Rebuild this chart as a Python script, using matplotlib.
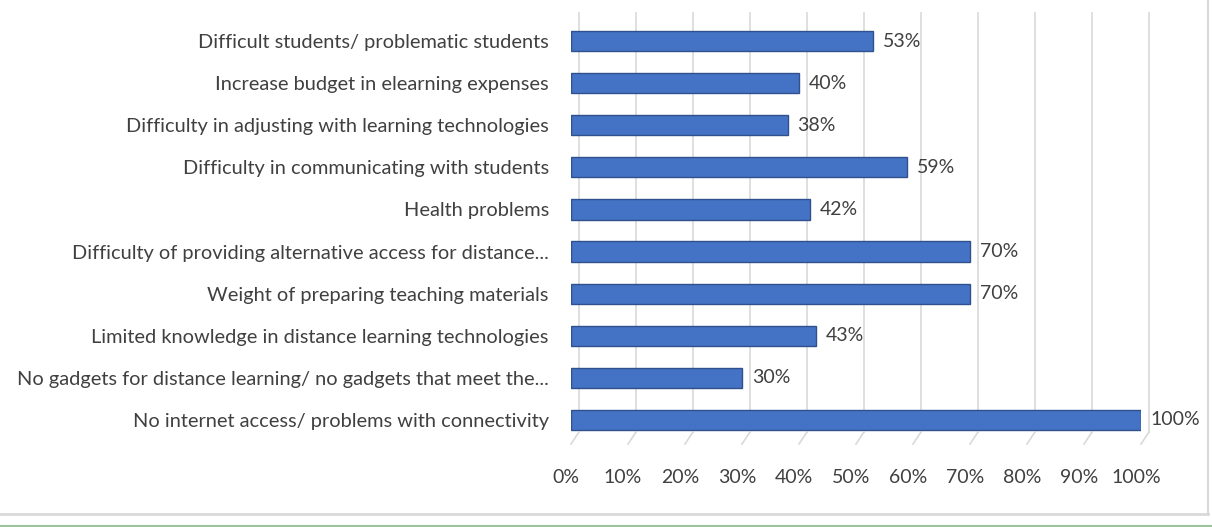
import matplotlib
matplotlib.use("Agg")
import matplotlib.pyplot as plt
from matplotlib import transforms
from matplotlib.lines import Line2D

categories = [
    "Difficult students/ problematic students",
    "Increase budget in elearning expenses",
    "Difficulty in adjusting with learning technologies",
    "Difficulty in communicating with students",
    "Health problems",
    "Difficulty of providing alternative access for distance...",
    "Weight of preparing teaching materials",
    "Limited knowledge in distance learning technologies",
    "No gadgets for distance learning/ no gadgets that meet the...",
    "No internet access/ problems with connectivity",
]
values = [53, 40, 38, 59, 42, 70, 70, 43, 30, 100]
xticks = [0, 10, 20, 30, 40, 50, 60, 70, 80, 90, 100]
xtick_labels = [f"{t}%" for t in xticks]

plt.rcParams['font.family'] = ['Lato', 'DejaVu Sans']
text_color = '#404040'
bar_color = '#4472C4'
edge_color = '#2F528F'
grid_color = '#d9d9d9'

W, H = 1212, 527
fig = plt.figure(figsize=(W / 100, H / 100), dpi=100)
ax_left, ax_right, ax_top, ax_bottom = 571, 1141, 13, 444
ax = fig.add_axes([ax_left / W, 1 - ax_bottom / H, (ax_right - ax_left) / W, (ax_bottom - ax_top) / H])

ypos = list(range(len(categories)))
ax.barh(ypos, values, height=0.48, color=bar_color, edgecolor=edge_color, linewidth=1.0, zorder=3)
ax.set_xlim(0, 100)
ax.set_ylim(9.57, -0.665)

# 3D-like back-wall gridlines with slanted floor ticks
gtrans = transforms.offset_copy(ax.get_xaxis_transform(), fig, x=8, y=0, units='dots')
floor = (ax_bottom - 432) / (ax_bottom - ax_top)
inv = fig.transFigure.inverted()
for t in xticks:
    ax.plot([t, t], [floor, 1.0], color=grid_color, lw=1.2, transform=gtrans, zorder=1, clip_on=False)
    a = inv.transform(gtrans.transform((t, floor)))
    b = inv.transform(ax.get_xaxis_transform().transform((t, 0.0)))
    fig.add_artist(Line2D([a[0], b[0]], [a[1], b[1]], color=grid_color, lw=1.2, transform=fig.transFigure))

ax.set_xticks(xticks)
ax.set_xticklabels(xtick_labels)
ax.set_yticks(ypos)
ax.set_yticklabels(categories)
ax.tick_params(axis='x', length=0, pad=18, labelsize=14, labelcolor=text_color)
ax.tick_params(axis='y', length=0, pad=16, labelsize=14.4, labelcolor=text_color)
for lab in ax.get_xticklabels():
    lab.set_transform(lab.get_transform() + transforms.ScaledTranslation(-5 / 100, 0, fig.dpi_scale_trans))
for s in ax.spines.values():
    s.set_visible(False)

for y, v in zip(ypos, values):
    ax.annotate(f"{v}%", (v, y), xytext=(7, 0), textcoords='offset points',
                va='center', ha='left', fontsize=14, color=text_color, zorder=4)

# figure border and bottom line
fig.add_artist(Line2D([0, 1208 / W], [1 - 514 / H, 1 - 514 / H], color='#d9d9d9', lw=2, transform=fig.transFigure))
fig.add_artist(Line2D([1208 / W, 1208 / W], [1 - 514 / H, 1], color='#d9d9d9', lw=1.5, transform=fig.transFigure))
fig.add_artist(Line2D([0, 1], [1 - 525.5 / H, 1 - 525.5 / H], color='#9cc39a', lw=1.5, transform=fig.transFigure))

fig.savefig("out.png", dpi=100)
